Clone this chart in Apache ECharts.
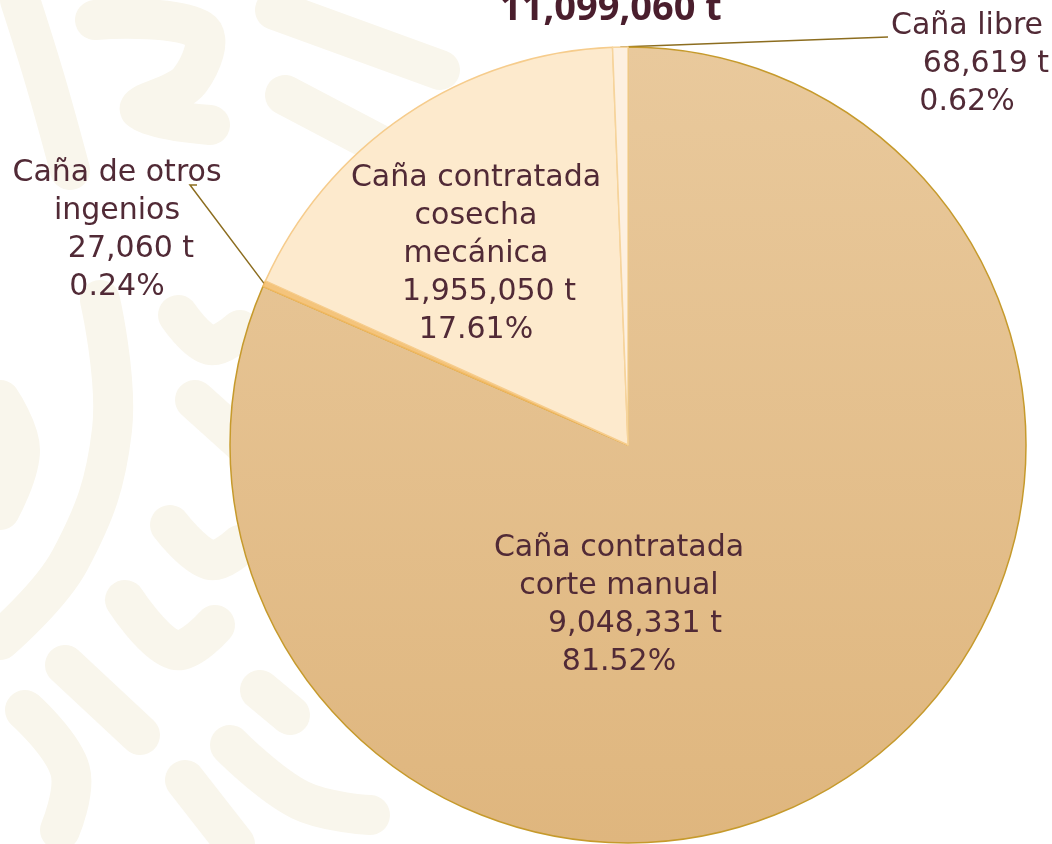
<!DOCTYPE html>
<html>
<head>
<meta charset="utf-8">
<script src="https://cdn.jsdelivr.net/npm/echarts@6/dist/echarts.min.js"></script>
<style>
  html, body { margin: 0; padding: 0; background: #fff; }
  #chart { width: 1052px; height: 844px; }
</style>
</head>
<body>
<div id="chart"></div>
<script>
// data, clockwise from 12 o'clock
const categories = ['Caña contratada corte manual', 'Caña de otros ingenios', 'Caña contratada cosecha mecánica', 'Caña libre'];
const nameLines = [['Caña contratada', 'corte manual'], ['Caña de otros', 'ingenios'], ['Caña contratada', 'cosecha', 'mecánica'], ['Caña libre']];
const tonnes = [9048331, 27060, 1955050, 68619];
const shares = [81.52, 0.24, 17.61, 0.62];
const totalLabel = '11,099,060 t';

const FONT = '"DejaVu Sans", "Open Sans", sans-serif';
const TEXT = '#512a36';
const fills = [
  { type: 'linear', x: 0, y: 0, x2: 0, y2: 1, colorStops: [{ offset: 0, color: '#e9c99c' }, { offset: 1, color: '#dfb67e' }] },
  '#f4c47c',
  '#fdeacd',
  '#fdf0e0'
];
const borders = ['#c69a2c', '#f0b860', '#f6cc8c', '#f6d49c'];
const labelSpots = [[619, 605], [117, 230], [476, 254], [967, 64]];
const valueShift = [32, 28, 26, 38];

// faint background ornament
const ornament = [
  [[20, 0], [45, 80], [70, 170]],
  [[95, 20], [200, 30], [190, 80], [140, 110], [210, 125]],
  [[275, 10], [440, 70]],
  [[285, 95], [380, 145]],
  [[100, 300], [112, 430], [70, 560], [0, 640]],
  [[0, 400], [20, 450], [0, 510]],
  [[178, 315], [210, 345], [240, 330]],
  [[195, 400], [245, 445]],
  [[170, 525], [210, 560], [240, 545]],
  [[125, 600], [175, 650], [215, 625]],
  [[65, 665], [140, 735]],
  [[25, 710], [70, 770], [60, 830]],
  [[185, 780], [235, 844]],
  [[230, 745], [300, 800], [370, 815]],
  [[260, 690], [290, 715]]
];

const chart = echarts.init(document.getElementById('chart'));

const rich = { n: { fontFamily: FONT, fontSize: 30, color: TEXT, lineHeight: 38 } };
valueShift.forEach((s, i) => {
  rich['v' + i] = { fontFamily: FONT, fontSize: 30, color: TEXT, lineHeight: 38, padding: [0, 0, 0, s] };
});

chart.setOption({
  backgroundColor: '#ffffff',
  title: {
    text: totalLabel,
    left: 495,
    top: -15,
    textStyle: { fontFamily: '"Open Sans", sans-serif', fontSize: 38, fontWeight: 'bold', color: '#4a1e2d' }
  },
  graphic: ornament.map((pts) => ({
    type: 'polyline',
    z: -10,
    silent: true,
    shape: { points: pts, smooth: 0.4 },
    style: { stroke: '#f9f6ec', lineWidth: 40, lineCap: 'round', lineJoin: 'round', fill: null }
  })),
  series: [{
    type: 'pie',
    center: [628, 445],
    radius: 398,
    startAngle: 90,
    clockwise: true,
    avoidLabelOverlap: false,
    emphasis: { disabled: true },
    label: {
      formatter: (p) => {
        const i = p.dataIndex;
        return nameLines[i].map((s) => '{n|' + s + '}').join('\n') +
          '\n{v' + i + '|' + tonnes[i].toLocaleString('en-US') + ' t}' +
          '\n{n|' + shares[i].toFixed(2) + '%}';
      },
      rich: rich,
      align: 'center'
    },
    labelLine: { lineStyle: { color: '#8c6d1f', width: 1.5 } },
    labelLayout: (params) => {
      const i = params.dataIndex;
      const out = { x: labelSpots[i][0], y: labelSpots[i][1], align: 'center', verticalAlign: 'middle' };
      if (i === 1 && params.labelLinePoints) {
        out.labelLinePoints = [params.labelLinePoints[0], [190, 185], [197, 185]];
      }
      if (i === 3 && params.labelLinePoints) {
        out.labelLinePoints = [params.labelLinePoints[0], [888, 37]];
      }
      return out;
    },
    data: categories.map((name, i) => ({
      name: name,
      value: tonnes[i],
      itemStyle: { color: fills[i], borderColor: borders[i], borderWidth: 1.5 },
      label: { position: (i === 0 || i === 2) ? 'inside' : 'outside' },
      labelLine: { show: i === 1 || i === 3 }
    }))
  }]
});
</script>
</body>
</html>
